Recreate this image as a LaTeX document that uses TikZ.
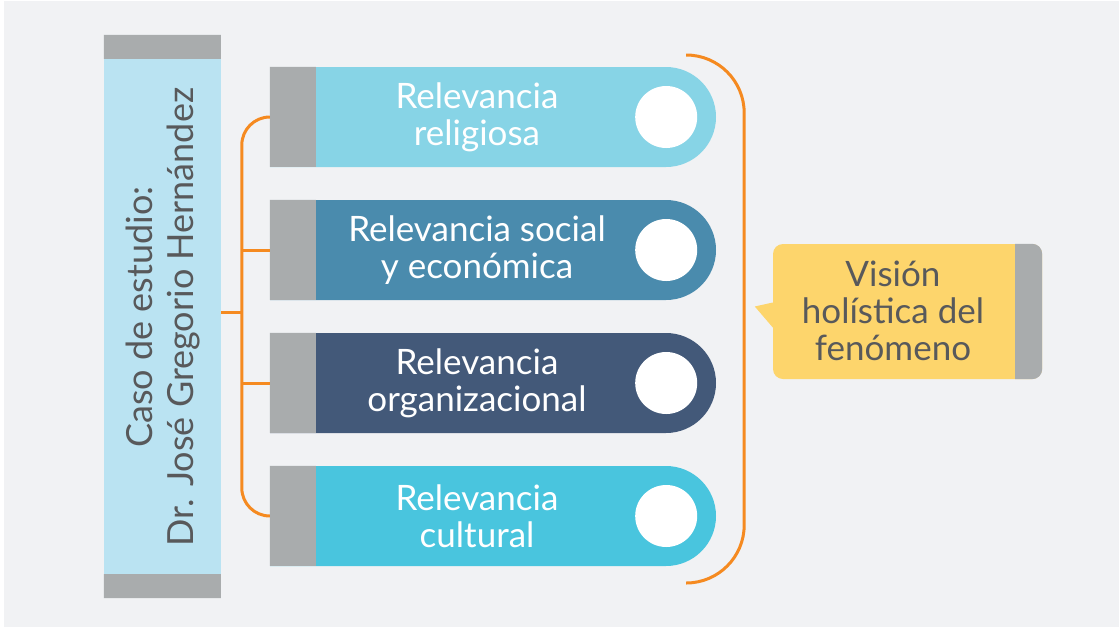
\documentclass[tikz,border=0pt]{standalone}
\usepackage{fontspec}
\setmainfont{Lato}
\usetikzlibrary{shapes.misc}
\definecolor{fondo}{HTML}{F1F2F4}
\definecolor{celeste}{HTML}{BAE3F2}
\definecolor{gris}{HTML}{A9ACAD}
\definecolor{grisoscuro}{HTML}{58595B}
\definecolor{azuluno}{HTML}{87D4E6}
\definecolor{azuldos}{HTML}{4A8BAD}
\definecolor{azultres}{HTML}{435979}
\definecolor{azulcuatro}{HTML}{49C5DE}
\definecolor{naranja}{HTML}{F58A20}
\definecolor{amarillo}{HTML}{FDD56C}
\begin{document}
\begin{tikzpicture}[x=1pt,y=-1pt,
	bar/.style={rounded rectangle,rounded rectangle west arc=none,minimum width=446pt,minimum height=100pt,inner sep=0pt},
	bartxt/.style={text=white,font=\fontsize{35}{37}\selectfont,align=center,inner sep=0pt},
	circ/.style={circle,fill=white,minimum size=62pt,inner sep=0pt},
	brk/.style={draw=naranja,line width=3pt}]
	\useasboundingbox (0,0) rectangle (1119,627);
	\fill[white] (0,0) rectangle (1119,627);
	\fill[fondo] (4,1) rectangle (1119,627);
	% caso de estudio
	\node[fill=celeste,minimum width=117pt,minimum height=563pt,inner sep=0pt] (caso) at (162.5,316.5) {};
	\fill[gris] (caso.north west) rectangle ++(117,24) (caso.south west) rectangle ++(117,-24);
	\node[rotate=90,text=grisoscuro,font=\fontsize{36}{41}\selectfont,align=center,inner sep=0pt] (tcaso) at (163,317) {Caso de estudio:\\Dr. José Gregorio Hernández};
	% relevancias
	\node[bar,fill=azuluno] (bar1) at (493,117) {};
	\node[bar,fill=azuldos] (bar2) at (493,250) {};
	\node[bar,fill=azultres] (bar3) at (493,383) {};
	\node[bar,fill=azulcuatro] (bar4) at (493,516) {};
	\fill[gris] (bar1.north west) rectangle ++(46,100) (bar2.north west) rectangle ++(46,100)
	(bar3.north west) rectangle ++(46,100) (bar4.north west) rectangle ++(46,100);
	\node[circ] (c1) at ([xshift=-50pt]bar1.east) {};
	\node[circ] (c2) at ([xshift=-50pt]bar2.east) {};
	\node[circ] (c3) at ([xshift=-50pt]bar3.east) {};
	\node[circ] (c4) at ([xshift=-50pt]bar4.east) {};
	\node[bartxt] (t1) at (477,117) {Relevancia\\religiosa};
	\node[bartxt] (t2) at (477,250) {Relevancia social\\y económica};
	\node[bartxt] (t3) at (477,383) {Relevancia\\organizacional};
	\node[bartxt] (t4) at (477,516) {Relevancia\\cultural};
	% llaves
	\draw[brk,rounded corners=28pt] (bar1.west) -- ++(-28,0) coordinate (tallo) |- (bar4.west);
	\draw[brk] (bar2.west) -- (bar2.west -| tallo) (bar3.west) -- (bar3.west -| tallo);
	\draw[brk] ([yshift=4pt]caso.east) -- ([yshift=4pt]caso.east -| tallo);
	\draw[brk,rounded corners=58pt] ([shift={(-30,-62)}]bar1.east) -- ++(58,0) coordinate (llave)
	-- ([shift={(28,67)}]bar4.east) -- ([shift={(-30,67)}]bar4.east);
	% vision
	\node[fill=amarillo,rounded corners=10pt,minimum width=269pt,minimum height=135pt,inner sep=0pt] (vision) at (907.5,311.5) {};
	\begin{scope}
		\clip ([xshift=-27pt]vision.north east) rectangle (vision.south east);
		\fill[gris,rounded corners=10pt] ([xshift=-40pt]vision.north east) rectangle (vision.south east);
	\end{scope}
	\fill[amarillo] ([yshift=9pt]vision.west) -- ++(-18,4) -- ([yshift=-16pt]vision.west) -- cycle;
	\node[text=grisoscuro,font=\fontsize{35}{37}\selectfont,align=center,inner sep=0pt] (tv) at (893,311) {Visión\\holística del\\fenómeno};
\end{tikzpicture}
\end{document}
